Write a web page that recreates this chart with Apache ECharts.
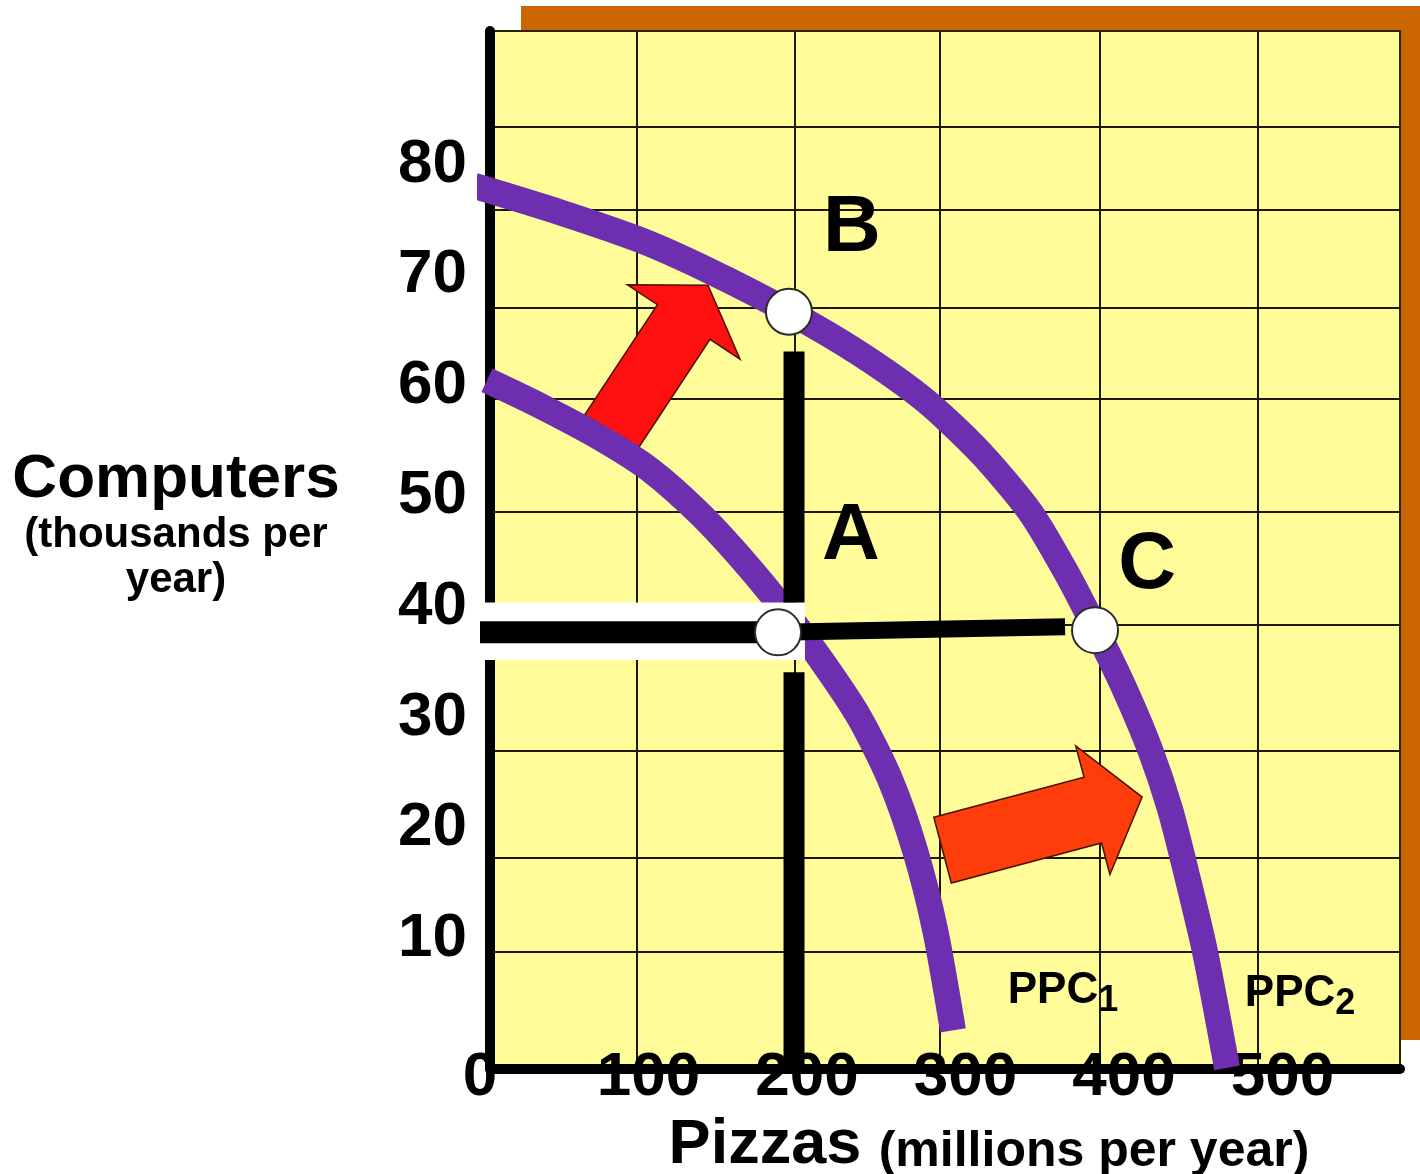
<!DOCTYPE html>
<html>
<head>
<meta charset="utf-8">
<script src="https://cdn.jsdelivr.net/npm/echarts@6/dist/echarts.min.js"></script>
<style>
  html, body { margin: 0; padding: 0; background: #fff; }
  #chart { width: 1420px; height: 1174px; }
</style>
</head>
<body>
<div id="chart"></div>
<script>
// tick labels
const pizzaTicks = [0, 100, 200, 300, 400, 500];
const computerTicks = [10, 20, 30, 40, 50, 60, 70, 80];

// production possibility curves [pizzas, computers]
const ppc1 = [[-1.9, 60.5], [31.5, 58.2], [69.4, 55.3], [101.0, 52.4], [132.5, 48.4], [160.9, 44.0],
  [186.1, 39.6], [211.4, 34.7], [233.4, 29.9], [252.4, 24.4], [268.1, 18.0], [280.8, 10.8], [292.1, 1.7]];
const ppc2 = [[-10.1, 78.1], [44.2, 75.7], [94.6, 73.2], [136.9, 70.5], [188.6, 66.7], [233.4, 62.9],
  [274.4, 58.7], [309.1, 54.0], [340.7, 48.6], [362.8, 43.3], [381.7, 38.1], [400.6, 32.5],
  [416.4, 27.1], [429.0, 21.7], [440.4, 15.3], [451.1, 8.8], [465.0, -1.7]];

// marked points
const pointNames = ['A', 'B', 'C'];
const pointValues = [[181.7, 37.7], [188.6, 66.7], [381.7, 37.9]];

// guide lines through A
const verticalGuide = [[191.8, 63.1], [191.8, 40.4], [191.8, 34.1], [191.8, -1.8]];
const horizontalGuide = [[-6.3, 37.7], [181.7, 37.7], [362.8, 38.2]];
const maskBox = [[-6.3, 40.4], [198.7, 35.2]];

// shift arrows: tail -> tip
const shiftArrows = [[[76.3, 55.8], [137.5, 69.1]], [[285.5, 18.0], [411.4, 22.8]]];

const FONT = 'Liberation Sans, Arial, sans-serif';
const PURPLE = '#6D2EB0';
const arrowLook = [
  { shaft: 63, headW: 135, head: 44, color: '#FF1010' },
  { shaft: 68, headW: 133, head: 51, color: '#FF3D0A' }
];
const letterOffset = { A: [73, -95], B: [63, -83], C: [52, -64] };

const chart = echarts.init(document.getElementById('chart'));

const option = {
  animation: false,
  backgroundColor: '#ffffff',
  grid: [
    { left: 490, right: 20, top: 31, bottom: 105, show: true, backgroundColor: '#FFFC99',
      borderColor: '#2a2400', borderWidth: 2, z: 0, containLabel: false, outerBoundsMode: 'none' },
    { left: 521, right: 0, top: 6, bottom: 134, show: true, backgroundColor: '#CC6600',
      borderWidth: 0, z: -1, containLabel: false, outerBoundsMode: 'none' }
  ],
  xAxis: {
    type: 'value', gridIndex: 0, min: 0, max: 574.1,
    axisLine: { onZero: false, lineStyle: { color: '#000', width: 10 } },
    axisTick: { show: false, customValues: [92.7, 192.4, 283.9, 384.9, 484.5] },
    splitLine: { show: true, lineStyle: { color: '#1c1a00', width: 2 } },
    axisLabel: {
      customValues: pizzaTicks, color: '#000', fontFamily: FONT, fontWeight: 'bold',
      fontSize: 62, verticalAlign: 'middle', margin: 9,
      formatter: v => (v === 0 ? '{z|0}' : String(v)),
      rich: {
        z: { fontFamily: FONT, fontWeight: 'bold', fontSize: 62, color: '#000', padding: [0, 20, 0, 0] }
      }
    },
    name: '{big|Pizzas }{small|(millions per year)}',
    nameLocation: 'middle', nameGap: 72,
    nameTextStyle: {
      verticalAlign: 'middle',
      rich: {
        big: { fontFamily: FONT, fontWeight: 'bold', fontSize: 63, color: '#000',
          lineHeight: 70, verticalAlign: 'bottom', padding: [0, 0, 0, 88] },
        small: { fontFamily: FONT, fontWeight: 'bold', fontSize: 50, color: '#000',
          lineHeight: 62, verticalAlign: 'bottom' }
      }
    }
  },
  yAxis: {
    type: 'value', gridIndex: 0, min: -1.8, max: 92.1,
    axisLine: { onZero: false, lineStyle: { color: '#000', width: 10 } },
    axisTick: { show: false, customValues: [83.4, 75.9, 67.1, 58.8, 48.6, 38.4, 27.0, 17.3, 8.8] },
    splitLine: { show: true, lineStyle: { color: '#1c1a00', width: 2 } },
    axisLabel: {
      customValues: computerTicks, color: '#000', fontFamily: FONT, fontWeight: 'bold',
      fontSize: 62, margin: 23, padding: [14, 0, 0, 0]
    },
    name: '{a|Computers}\n{b|(thousands per}\n{b|year)}',
    nameLocation: 'middle', nameRotate: 0, nameGap: 314,
    nameTextStyle: {
      align: 'center', verticalAlign: 'middle', padding: [0, 0, 50, 0],
      rich: {
        a: { fontFamily: FONT, fontWeight: 'bold', fontSize: 62, color: '#000', lineHeight: 66, align: 'center' },
        b: { fontFamily: FONT, fontWeight: 'bold', fontSize: 42, color: '#000', lineHeight: 45, align: 'center' }
      }
    }
  },
  series: [
    {
      type: 'custom', name: 'shift', z: 1,
      data: shiftArrows.map(a => [a[0][0], a[0][1], a[1][0], a[1][1]]),
      renderItem: function (params, api) {
        const look = arrowLook[params.dataIndex];
        const p0 = api.coord([api.value(0), api.value(1)]);
        const p1 = api.coord([api.value(2), api.value(3)]);
        const dx = p1[0] - p0[0], dy = p1[1] - p0[1];
        const L = Math.hypot(dx, dy);
        const ux = dx / L, uy = dy / L, nx = -uy, ny = ux;
        const hb = L - look.head;
        const pt = (t, w) => [p0[0] + ux * t + nx * w, p0[1] + uy * t + ny * w];
        return {
          type: 'polygon',
          shape: { points: [pt(0, -look.shaft / 2), pt(hb, -look.shaft / 2), pt(hb, -look.headW / 2),
            pt(L, 0), pt(hb, look.headW / 2), pt(hb, look.shaft / 2), pt(0, look.shaft / 2)] },
          style: { fill: look.color, stroke: '#4a1000', lineWidth: 1.5 }
        };
      }
    },
    {
      type: 'line', name: 'PPC1', data: ppc1, smooth: 0.25, symbol: 'none', clip: false, z: 2,
      lineStyle: { color: PURPLE, width: 26, cap: 'butt' }
    },
    {
      type: 'line', name: 'PPC2', data: ppc2, smooth: 0.25, symbol: 'none', clip: false, z: 2,
      lineStyle: { color: PURPLE, width: 26, cap: 'butt' }
    },
    {
      type: 'custom', name: 'mask', z: 3,
      data: [[maskBox[0][0], maskBox[0][1], maskBox[1][0], maskBox[1][1]]],
      renderItem: function (params, api) {
        const a = api.coord([api.value(0), api.value(1)]);
        const b = api.coord([api.value(2), api.value(3)]);
        return { type: 'rect', shape: { x: a[0], y: a[1], width: b[0] - a[0], height: b[1] - a[1] },
          style: { fill: '#ffffff' } };
      }
    },
    {
      type: 'line', data: verticalGuide.slice(0, 2), symbol: 'none', clip: false, z: 4,
      lineStyle: { color: '#000', width: 21, cap: 'butt' }
    },
    {
      type: 'line', data: verticalGuide.slice(2, 4), symbol: 'none', clip: false, z: 4,
      lineStyle: { color: '#000', width: 21, cap: 'butt' }
    },
    {
      type: 'line', data: horizontalGuide.slice(0, 2), symbol: 'none', clip: false, z: 4,
      lineStyle: { color: '#000', width: 22, cap: 'butt' }
    },
    {
      type: 'line', data: horizontalGuide.slice(1, 3), symbol: 'none', clip: false, z: 4,
      lineStyle: { color: '#000', width: 17, cap: 'butt' }
    },
    {
      type: 'scatter', z: 5, symbol: 'circle', symbolSize: 46,
      itemStyle: { color: '#ffffff', borderColor: '#2b2b2b', borderWidth: 2, opacity: 1 },
      data: pointNames.map((n, i) => ({
        name: n, value: pointValues[i],
        label: { offset: letterOffset[n] }
      })),
      label: {
        show: true, position: 'inside', formatter: '{b}', color: '#000',
        fontFamily: FONT, fontWeight: 'bold', fontSize: 80
      }
    },
    {
      type: 'scatter', z: 6, symbolSize: 0, itemStyle: { opacity: 1 },
      data: [
        { name: '1', value: ppc1[ppc1.length - 1], label: { offset: [110, -37] } },
        { name: '2', value: ppc2[ppc2.length - 1], label: { offset: [73, -72] } }
      ],
      label: {
        show: true, position: 'inside', formatter: '{m|PPC}{s|{b}}',
        rich: {
          m: { fontFamily: FONT, fontWeight: 'bold', fontSize: 44, color: '#000',
            lineHeight: 52, verticalAlign: 'bottom', padding: [0, 0, 6, 0] },
          s: { fontFamily: FONT, fontWeight: 'bold', fontSize: 36, color: '#000',
            lineHeight: 40, verticalAlign: 'bottom' }
        }
      }
    }
  ]
};

chart.setOption(option);
</script>
</body>
</html>
